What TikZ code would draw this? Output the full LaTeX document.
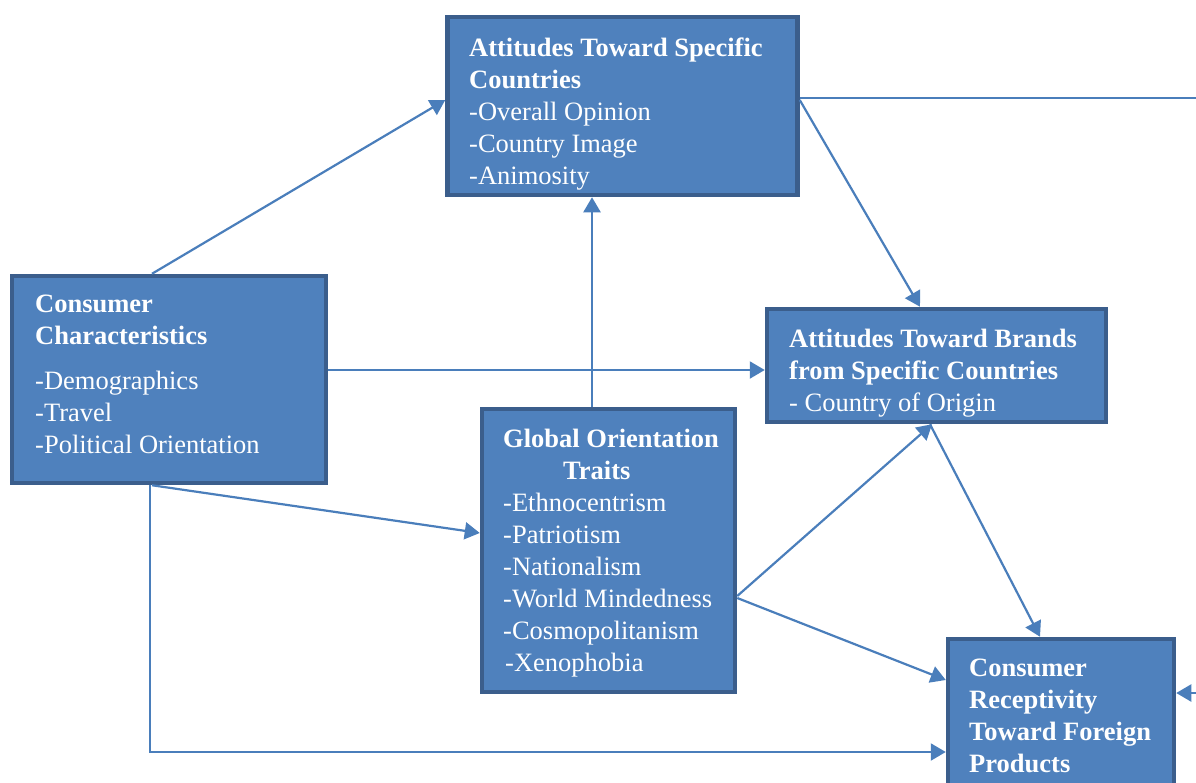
\documentclass[tikz,border=0pt]{standalone}
\usepackage{fontspec}
\setmainfont{Liberation Serif}
\usetikzlibrary{arrows.meta,calc}

\definecolor{boxfill}{HTML}{4F81BD}
\definecolor{boxline}{HTML}{3B5E8C}
\definecolor{linkline}{HTML}{4A7EBB}

\begin{document}
\begin{tikzpicture}[x=1pt,y=-1pt,
  box/.style={draw=boxline,fill=boxfill,line width=4.5pt,inner sep=0pt},
  boxtext/.style={anchor=north west,inner sep=0pt,align=left,text=white,
    font=\fontsize{26.5}{32}\selectfont},
  link/.style={draw=linkline,line width=2.2pt,-{Triangle[length=15pt,width=17pt]}}]

  \clip (0,0) rectangle (1196,782);

  \node[box,minimum width=350pt,minimum height=178pt] (countries) at (622.5,106) {};
  \node[box,minimum width=314pt,minimum height=207pt] (consumer) at (169,379.5) {};
  \node[box,minimum width=339pt,minimum height=113pt] (brands) at (936.5,365.5) {};
  \node[box,minimum width=253pt,minimum height=283pt] (traits) at (608.5,550.5) {};
  \node[box,minimum width=226pt,minimum height=161pt] (receptivity) at (1061,719.5) {};

  \node[boxtext] (countriestext) at (469,38)
    {\textbf{Attitudes Toward Specific}\\\textbf{Countries}\\-Overall Opinion\\-Country Image\\-Animosity};
  \node[boxtext] (consumertext) at (35,295)
    {\textbf{Consumer}\\\textbf{Characteristics}\\[13pt]-Demographics\\-Travel\\-Political Orientation};
  \node[boxtext] (brandstext) at (789,329)
    {\textbf{Attitudes Toward Brands}\\\textbf{from Specific Countries}\\- Country of Origin};
  \node[boxtext] (traitstext) at (503,429)
    {\textbf{Global Orientation}\\\hspace*{60pt}\textbf{Traits}\\-Ethnocentrism\\-Patriotism\\-Nationalism\\-World Mindedness\\-Cosmopolitanism\\\hspace*{2pt}-Xenophobia};
  \node[boxtext] (receptivitytext) at (969,659)
    {\textbf{Consumer}\\\textbf{Receptivity}\\\textbf{Toward Foreign}\\\textbf{Products}};

  \coordinate (edgetop) at (1196,98);
  \coordinate (edgeright) at (1196,693);
  \coordinate (traitsup) at ($(traits.north)+(-16.5,0)$);
  \coordinate (consumerright) at ($(consumer.east)+(0,-9.5)$);
  \coordinate (consumerdown) at ($(consumer.south)+(-19,0)$);

  \draw[link] ($(consumer.north)+(-17,0)$) -- ($(countries.west)+(0,-6)$);
  \draw[draw=linkline,line width=2.2pt] ($(countries.east)+(0,-8)$) -- (edgetop);
  \draw[link] ($(countries.east)+(0,-6)$) -- ($(brands.north)+(-16.5,0)$);
  \draw[link] (traitsup) -- (traitsup |- countries.south);
  \draw[link] (consumerright) -- (consumerright -| brands.west);
  \draw[link] ($(consumer.south)+(-17,0)$) -- ($(traits.west)+(0,-17.5)$);
  \draw[link] (consumerdown) |- ($(receptivity.west)+(0,32.5)$);
  \draw[link] ($(traits.east)+(0,45.5)$) -- ($(brands.south)+(-4.5,0)$);
  \draw[link] ($(traits.east)+(0,47.5)$) -- ($(receptivity.west)+(0,-39.5)$);
  \draw[link] ($(brands.south)+(-6.5,0)$) -- ($(receptivity.north)+(-21,0)$);
  \draw[link] (edgeright) -- ($(receptivity.east)+(0,-26.5)$);

\end{tikzpicture}
\end{document}
